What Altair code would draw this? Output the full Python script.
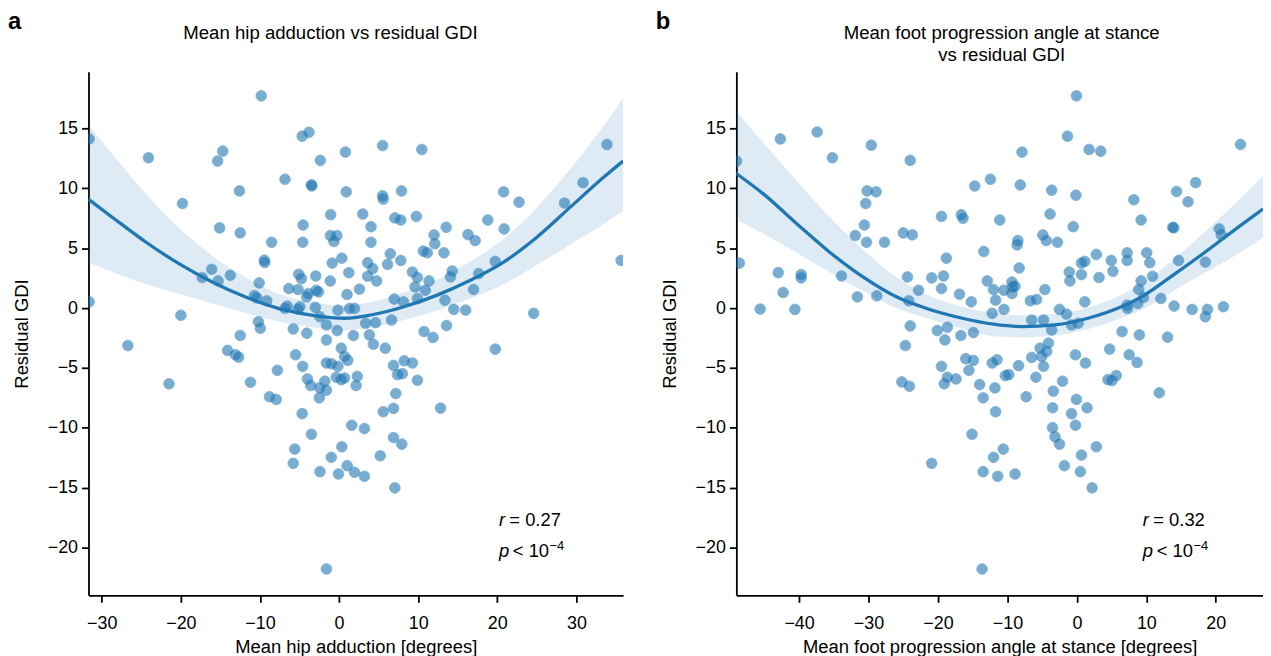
import altair as alt
import pandas as pd

FONT = "Liberation Sans"
C0 = "#1f77b4"

# ---------------- panel a: mean hip adduction ----------------
a_x = [-9.84, -4.67, -3.81, -31.6, -24.1, -14.7, -15.35, 0.8, -2.37, -6.84, -3.5, -3.45, -12.6, 0.9,
       -19.8, -1.07, -15.1, -12.5, -4.55, -8.53, -1.1, -0.28, -0.65, -4.6, 2.99, 0.35, -0.87, -9.45,
       -9.4, 1.23, -16.1, -17.3, -13.75, -15.3, -10.1, -5.1, -4.76, -2.95, -1.12, -6.35, -5.18, -3.9,
       -4.1, -2.9, -2.6, 1.0, 2.57, -10.7, -10.4, -9.15, -6.56, -6.84, -4.96, -5.2, -3.0, -0.15, 1.32,
       1.95, -31.6, -20.0, -10.2, -9.96, -26.7, -21.5, -12.5, -14.1, -13.1, -12.7, -7.8, -11.2, -8.8,
       -7.95, -5.8, -4.08, -5.5, -4.6, -4.0, -3.6, -2.45, -1.6, -2.5, -1.8, -1.6, -0.97, -0.15, 0.27,
       0.69, 1.1, -0.36, 0.27, 0.69, -1.6, -0.24, -2.45, -1.6, -4.67, -3.5, 1.6, -5.6, -5.8, 0.35,
       -0.99, -2.42, 1.02, -0.07, 1.95, -1.6, 2.3, 2.15, 1.8, 5.5, 10.46, 33.86, 30.84, 28.5, 5.5,
       5.58, 7.89, 20.8, 22.75, 4.03, 7.05, 7.8, 9.77, 4.03, 18.8, 20.87, 12.0, 13.54, 16.3, 17.2,
       12.1, 10.65, 11.15, 13.25, 6.47, 7.8, 6.13, 3.62, 4.25, 3.62, 4.75, 9.27, 9.9, 14.3, 14.08,
       11.37, 9.6, 10.9, 19.74, 17.65, 17.0, 6.97, 8.14, 9.9, 13.38, 14.5, 16.0, 24.6, 35.65, 19.74,
       10.74, 11.87, 13.58, 3.35, 4.6, 6.63, 3.83, 4.33, 5.84, 6.88, 8.23, 9.27, 7.39, 8.0, 9.9, 7.17,
       5.58, 6.88, 12.83, 3.2, 6.88, 7.93, 5.2, 3.2, 7.05]
a_y = [17.73, 14.36, 14.69, 14.13, 12.56, 13.11, 12.28, 13.03, 12.34, 10.76, 10.3, 10.2, 9.79, 9.71,
       8.74, 7.8, 6.7, 6.28, 6.94, 5.5, 6.06, 6.06, 5.56, 5.5, 7.86, 4.17, 3.76, 4.0,
       3.8, 2.96, 3.24, 2.55, 2.74, 2.27, 2.1, 2.82, 2.46, 2.68, 2.27, 1.63, 1.55, 1.22,
       0.94, 1.49, 1.35, 1.13, 1.58, 1.05, 0.85, 0.61, 0.17, -0.03, 0.11, -0.1, 0.06, -0.17, -0.03,
       -0.03, 0.52, -0.6, -1.14, -1.69, -3.13, -6.33, -2.29, -3.54, -3.9, -4.1, -5.2, -6.2, -7.41,
       -7.63, -1.74, -2.1, -3.9, -4.87, -5.92, -6.47, -6.67, -6.86, -7.5, -6.11, -4.59, -4.65, -4.87, -3.35,
       -4.04, -4.37, -5.78, -5.98, -5.84, -2.66, -1.88, -0.72, -1.41, -8.82, -10.54, -9.79, -11.78, -12.97, -11.59,
       -12.47, -13.67, -13.17, -13.86, -13.72, -21.8, -5.7, -6.47, -2.3, 13.58, 13.25, 13.67, 10.48, 8.77, 9.38,
       9.1, 9.79, 9.71, 8.85, 6.8, 7.53, 7.36, 7.66, 5.5, 7.36, 6.61, 6.11, 6.75, 6.14, 5.64,
       5.37, 4.76, 4.62, 4.62, 4.54, 3.98, 3.65, 3.79, 3.29, 2.66, 2.27, 3.01, 2.55, 3.1, 2.6,
       2.27, 1.77, 1.49, 3.9, 2.88, 1.55, 0.75, 0.52, 0.8, 0.66, -0.11, -0.17, -0.44, 3.98, -3.43,
       -1.96, -2.46, -1.46, -1.27, -1.22, -1.0, -2.24, -3.02, -3.35, -4.79, -4.4, -4.59, -5.56, -5.48, -6.03, -7.14,
       -8.66, -8.38, -8.36, -10.07, -10.82, -11.37, -12.34, -14.05, -15.02]

# quadratic fit and 95% band
a_fit_x = [-31.7, -28.6, -24.4, -20.25, -16.1, -11.9, -7.7, -3.5, 0.7, 4.0, 8.2, 12.4, 16.6, 20.8, 25.0, 29.2, 33.4, 35.9]
a_fit_y = [9.1, 7.55, 5.5, 3.71, 2.2, 0.94, -0.02, -0.58, -0.85, -0.58, 0.11, 1.08, 2.32, 3.84, 5.92, 8.41, 10.9, 12.28]
a_fit_lo = [3.8, 3.0, 2.0, 1.2, 0.4, -0.4, -1.1, -1.6, -1.85, -1.65, -1.0, -0.2, 0.8, 2.0, 3.6, 5.3, 7.0, 8.13]
a_fit_hi = [15.3, 12.8, 9.5, 6.7, 4.4, 2.6, 1.2, 0.5, 0.2, 0.5, 1.3, 2.4, 3.9, 5.8, 8.4, 11.6, 15.2, 17.5]

# ---------------- panel b: mean foot progression angle ----------------
b_x = [-37.4, -42.7, -29.6, -35.2, -24.0, -49.0, -12.45, -14.7, -30.2, -28.9, -30.4, -19.5, -16.65, -16.4,
       -11.1, -30.6, -31.9, -30.3, -27.7, -25.0, -23.7, -13.4, -18.8, -48.6, -43.0, -39.7, -39.7, -33.9,
       -24.4, -20.9, -19.2, -19.5, -12.9, -12.0, -11.7, -42.3, -22.8, -31.6, -28.8, -16.9, -15.2, -24.2,
       -45.6, -40.6, -12.2, -24.0, -24.7, -20.1, -18.65, -19.0, -16.7, -14.9, -16.0, -14.9, -15.55, -19.5,
       -18.65, -19.1, -17.4, -25.2, -24.1, -14.0, -13.5, -12.2, -11.5, -11.8, -11.7, -15.1, -20.9, -12.0,
       -13.5, -11.4, -13.65, -0.06, -1.35, -7.9, 1.76, 3.43, 23.55, -8.15, -3.63, -0.14, 17.1, 14.35,
       16.0, 8.2, -3.86, -0.53, 9.25, 13.8, 13.95, -4.9, -4.4, -2.8, -8.5, -8.6, 20.5, 20.8,
       -8.3, -1.1, -1.0, 0.66, 1.14, 0.66, 2.8, 4.95, 5.19, 3.19, 7.24, 7.24, 10.06, 10.5,
       14.64, 18.5, 10.9, 9.25, 8.9, 9.6, 12.1, -10.5, -10.5, -9.35, -9.25, -8.9, -9.35, -4.6,
       -6.7, -5.8, -2.5, -1.5, 1.14, 7.24, 7.3, 14.0, 16.6, 18.8, 18.5, 21.1, -6.5, -4.8,
       6.5, 9.0, 13.06, 4.72, 7.53, 8.67, 4.48, 5.67, 5.05, 11.87, -0.2, 1.23, -6.5, -5.06,
       -4.8, -5.3, -4.1, -4.35, -5.9, -2.06, -3.4, -8.4, -9.8, -10.3, -7.3, -3.5, -0.06, 1.47,
       -0.77, -0.2, -3.5, -3.15, -2.5, 2.8, 0.66, -10.6, -1.8, 0.5, -8.9, 2.19, -3.63, -0.77,
       0.19, 8.77]
b_y = [14.71, 14.13, 13.61, 12.56, 12.34, 12.28, 10.76, 10.2, 9.79, 9.71, 8.74, 7.66, 7.8, 7.5,
       7.36, 6.94, 6.06, 5.5, 5.5, 6.28, 6.12, 4.73, 4.17, 3.76, 2.96, 2.8, 2.52, 2.68,
       2.6, 2.52, 2.68, 1.63, 2.27, 1.55, 0.66, 1.3, 1.49, 0.94, 1.02, 1.16, 0.52, 0.61,
       -0.08, -0.11, -0.44, -1.49, -3.13, -1.88, -1.6, -2.66, -2.29, -2.05, -4.23, -4.37, -5.2, -4.87,
       -5.78, -6.33, -5.92, -6.17, -6.53, -6.39, -7.5, -4.59, -4.32, -6.67, -8.66, -10.54, -12.97, -12.47,
       -13.67, -14.05, -21.8, 17.73, 14.36, 13.03, 13.25, 13.11, 13.67, 10.29, 9.85, 9.43, 10.48, 9.74,
       8.88, 9.05, 7.86, 6.8, 7.36, 6.75, 6.7, 6.11, 5.64, 5.5, 5.64, 5.28, 6.61, 6.11,
       3.35, 3.01, 2.27, 3.76, 3.9, 2.8, 4.48, 3.98, 3.07, 2.55, 4.62, 3.98, 4.62, 3.79,
       3.98, 3.84, 2.66, 2.27, 1.55, 0.89, 0.8, 1.49, -0.11, 2.18, 1.77, 1.83, 1.22, 1.55,
       0.61, 0.72, -0.11, -0.5, 0.52, 0.25, -0.03, 0.17, -0.11, -0.11, -0.72, 0.11, -1.0, -1.0,
       -1.96, -2.24, -2.43, -3.43, -3.9, -4.54, -5.98, -5.64, -6.06, -7.08, -3.9, -4.59, -4.12, -4.04,
       -4.87, -3.35, -2.93, -3.63, -5.78, -6.11, -6.94, -4.81, -5.56, -5.64, -7.41, -8.33, -7.63, -8.33,
       -8.82, -9.79, -9.99, -10.76, -11.37, -11.59, -12.28, -11.78, -13.17, -13.67, -13.86, -15.02, -1.83, -1.41,
       -1.27, 0.39]

b_fit_x = [-49.2, -45.1, -40.3, -35.6, -30.8, -26.0, -21.3, -16.5, -12.0, -7.9, -3.2, 1.6, 6.4, 9.5, 13.5, 18.3, 23.1, 26.8]
b_fit_y = [11.31, 9.52, 7.03, 4.67, 2.6, 0.94, -0.1, -0.85, -1.35, -1.55, -1.41, -0.85, 0.11, 1.0, 2.6, 4.6, 6.7, 8.27]
b_fit_lo = [7.44, 6.2, 4.6, 3.0, 1.45, 0.0, -0.9, -1.75, -2.35, -2.45, -2.3, -1.75, -0.85, -0.1, 1.3, 2.9, 4.5, 5.92]
b_fit_hi = [16.57, 13.8, 10.6, 7.6, 4.9, 2.6, 1.05, 0.1, -0.4, -0.6, -0.5, 0.05, 1.1, 2.1, 3.9, 6.3, 8.9, 11.04]

y_ticks = [-20, -15, -10, -5, 0, 5, 10, 15]
Y_DOMAIN = [-24.0, 19.75]


def text_at(t, x, y, size=18, weight="normal", style="normal", align="left", baseline="alphabetic"):
    return alt.Chart(pd.DataFrame({"t": [t]})).mark_text(
        font=FONT, fontSize=size, fontWeight=weight, fontStyle=style, align=align,
        baseline=baseline, color="black"
    ).encode(x=alt.value(x), y=alt.value(y), text="t:N")


def panel(px, py, fx, fy, flo, fhi, xdom, xticks, width, title_lines, title_cx,
          xtitle, letter, r_label, ann_x):
    pts = pd.DataFrame({"x": px, "y": py})
    fit = pd.DataFrame({"x": fx, "y": fy, "lo": flo, "hi": fhi})
    xs = alt.Scale(domain=xdom, nice=False, zero=False)
    ys = alt.Scale(domain=Y_DOMAIN, nice=False, zero=False)
    xaxis = alt.Axis(values=xticks, title=xtitle, titlePadding=6, labelPadding=12)
    yaxis = alt.Axis(values=y_ticks, title="Residual GDI", titlePadding=16, labelPadding=4)

    points = alt.Chart(pts).mark_circle(
        size=115, opacity=0.6, color=C0, stroke=C0, strokeWidth=0.8, clip=True
    ).encode(
        x=alt.X("x:Q", scale=xs, axis=xaxis),
        y=alt.Y("y:Q", scale=ys, axis=yaxis),
    )
    band = alt.Chart(fit).mark_area(color=C0, opacity=0.15, clip=True, interpolate="monotone").encode(
        x="x:Q", y="lo:Q", y2="hi:Q"
    )
    line = alt.Chart(fit).mark_line(color=C0, strokeWidth=3.3, clip=True, interpolate="monotone").encode(
        x="x:Q", y="y:Q"
    )

    ann_pos = pd.DataFrame({"x": [ann_x, ann_x], "y": [-18.17, -20.79],
                            "it": ["r", "p"]})
    ann_it = alt.Chart(ann_pos).mark_text(
        font=FONT, fontSize=18.5, fontStyle="italic", align="left", baseline="alphabetic", color="black"
    ).encode(x="x:Q", y="y:Q", text="it:N")
    ann_r = alt.Chart(ann_pos.iloc[[0]].assign(t=r_label)).mark_text(
        font=FONT, fontSize=18.5, align="left", baseline="alphabetic", color="black", dx=10.5
    ).encode(x="x:Q", y="y:Q", text="t:N")
    ann_p = alt.Chart(ann_pos.iloc[[1]].assign(t="< 10")).mark_text(
        font=FONT, fontSize=18.5, align="left", baseline="alphabetic", color="black", dx=14
    ).encode(x="x:Q", y="y:Q", text="t:N")
    ann_sup = alt.Chart(ann_pos.iloc[[1]].assign(t="\u22124")).mark_text(
        font=FONT, fontSize=13, align="left", baseline="alphabetic", color="black", dx=51, dy=-7
    ).encode(x="x:Q", y="y:Q", text="t:N")

    layers = [points, band, line, ann_it, ann_r, ann_p, ann_sup,
              text_at(letter, -81, -43, size=24, weight="bold")]
    for i, ln in enumerate(title_lines):
        layers.append(text_at(ln, title_cx, -33 + 22 * i, size=18.7, align="center"))

    return alt.layer(*layers).properties(width=width, height=527)


pa = panel(a_x, a_y, a_fit_x, a_fit_y, a_fit_lo, a_fit_hi, [-31.68, 35.9], [-30, -20, -10, 0, 10, 20, 30],
           538, ["Mean hip adduction vs residual GDI"], 243.5,
           "Mean hip adduction [degrees]", "a", "= 0.27", 20.2)
pb = panel(b_x, b_y, b_fit_x, b_fit_y, b_fit_lo, b_fit_hi, [-49.03, 26.8], [-40, -30, -20, -10, 0, 10, 20],
           530, ["Mean foot progression angle at stance", "vs residual GDI"], 267,
           "Mean foot progression angle at stance [degrees]", "b", "= 0.32", 9.49)

chart = alt.hconcat(pa, pb, spacing=33).properties(
    padding={"left": 0, "top": 0, "right": 0, "bottom": 0}
).configure_view(stroke=None).configure_axis(
    grid=False,
    domainColor="black", domainWidth=1.8,
    tickColor="black", tickWidth=1.8, tickSize=7,
    labelFont=FONT, labelFontSize=18, labelColor="black",
    titleFont=FONT, titleFontSize=18.5, titleFontWeight="normal", titleColor="black",
)

chart.save("out.html", embed_options={"renderer": "svg", "actions": False})
